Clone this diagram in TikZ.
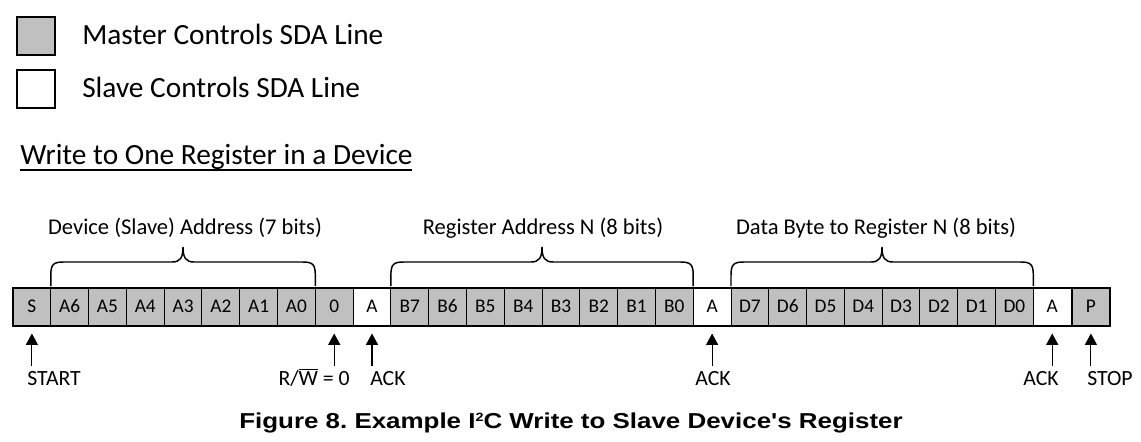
\documentclass[tikz,border=0pt]{standalone}
\usepackage{fontspec}
\setmainfont{Carlito}
\newfontfamily\capfont[FakeStretch=1.2]{Liberation Sans}
\usetikzlibrary{arrows.meta,calc}
\definecolor{mgray}{RGB}{192,192,192}
\frenchspacing
\tikzset{
  cell/.style={draw, line width=0.75pt, minimum width=28.34pt, minimum height=27.75pt, inner sep=0pt, font=\fontsize{14.5}{16}\selectfont},
  legbox/.style={draw, line width=1.2pt, minimum width=28.5pt, minimum height=28.5pt, inner sep=0pt},
  bigtxt/.style={inner sep=0pt, font=\fontsize{22}{26}\selectfont},
  brlbl/.style={inner sep=0pt, anchor=base, font=\fontsize{16.9}{20}\selectfont},
  botlbl/.style={inner sep=0pt, font=\fontsize{16.3}{19}\selectfont},
  bracestyle/.style={line width=1.1pt},
  arr/.style={line width=0.8pt, -{Triangle[length=8.5pt, width=9pt]}, shorten >=6pt},
}
\begin{document}
\begin{tikzpicture}[x=0.75pt, y=-0.75pt]
\useasboundingbox (0,0) rectangle (1141,442);
% legend
\node[legbox, fill=mgray] (lg1) at (36,36) {};
\node[legbox, fill=white] (lg2) at (36,89) {};
\node[bigtxt, anchor=base west] (lt1) at (82,45) {Master Controls SDA Line};
\node[bigtxt, anchor=base west] (lt2) at (82,98) {Slave Controls SDA Line};
% title
\node[bigtxt, anchor=base west] (title) at (20,165) {Write to One Register in a Device};
\draw[line width=1.4pt] ($(title.base west)+(0,5)$) -- ($(title.base east)+(-1,5)$);
% cells
\foreach \t/\f [count=\i from 0] in {S/mgray,A6/mgray,A5/mgray,A4/mgray,A3/mgray,A2/mgray,A1/mgray,A0/mgray,0/mgray,A/white,B7/mgray,B6/mgray,B5/mgray,B4/mgray,B3/mgray,B2/mgray,B1/mgray,B0/mgray,A/white,D7/mgray,D6/mgray,D5/mgray,D4/mgray,D3/mgray,D2/mgray,D1/mgray,D0/mgray,A/white}{
  \node[cell, fill=\f] (c\i) at ({13+37.79*(\i+0.5)},306.5) {\t};
}
\node[cell, fill=mgray] (p) at (1090.9,306.5) {P};
\draw[line width=1.5pt] (c0.north west) rectangle (c27.south east);
\draw[line width=1.5pt] (p.north west) rectangle (p.south east);
% braces
\draw[bracestyle] (50.8,286) -- (50.8,275) .. controls (50.8,264) and (53.8,262) .. (63.8,262) -- (172,262) .. controls (180,262) and (183,258) .. (183,247) .. controls (183,258) and (186,262) .. (194,262) -- (302.3,262) .. controls (312.3,262) and (315.3,264) .. (315.3,275) -- (315.3,286);
\draw[bracestyle] (390.9,286) -- (390.9,275) .. controls (390.9,264) and (393.9,262) .. (403.9,262) -- (531,262) .. controls (539,262) and (542,258) .. (542,247) .. controls (542,258) and (545,262) .. (553,262) -- (680.2,262) .. controls (690.2,262) and (693.2,264) .. (693.2,275) -- (693.2,286);
\draw[bracestyle] (731,286) -- (731,275) .. controls (731,264) and (734,262) .. (744,262) -- (871,262) .. controls (879,262) and (882,258) .. (882,247) .. controls (882,258) and (885,262) .. (893,262) -- (1020.3,262) .. controls (1030.3,262) and (1033.3,264) .. (1033.3,275) -- (1033.3,286);
\node[brlbl] (l1) at (185,234) {Device (Slave) Address (7 bits)};
\node[brlbl] (l2) at (543,234) {Register Address N (8 bits)};
\node[brlbl] (l3) at (876,234) {Data Byte to Register N (8 bits)};
% arrows
\coordinate (t0) at ($(c0.south)+(0,40)$);
\coordinate (t8) at ($(c8.south)+(0,40)$);
\coordinate (t9) at ($(c9.south)+(0,40)$);
\coordinate (t18) at ($(c18.south)+(0,40)$);
\coordinate (t27) at ($(c27.south)+(0,40)$);
\coordinate (tp) at ($(p.south)+(0,40)$);
\draw[arr] (t0) -- (c0.south);
\draw[arr] (t8) -- (c8.south);
\draw[arr] (t9) -- (c9.south);
\draw[arr] (t18) -- (c18.south);
\draw[arr] (t27) -- (c27.south);
\draw[arr] (tp) -- (p.south);
\node[botlbl, anchor=base west] (b0) at (27,385) {START};
\node[botlbl, anchor=base east] (b8) at (350,385) {R/\(\overline{\hbox{W}}\) = 0};
\node[botlbl, anchor=base west] (b9) at (370,385) {ACK};
\node[botlbl, anchor=base] (b18) at (713,385) {ACK};
\node[botlbl, anchor=base east] (b27) at (1059,385) {ACK};
\node[botlbl, anchor=base west] (bp) at (1087,385) {STOP};
% caption
\node[inner sep=0pt, anchor=base, font=\capfont\bfseries\fontsize{16.2}{18}\selectfont] (cap) at (571,428) {Figure 8. Example I\raisebox{0.55ex}{\fontsize{9}{9}\selectfont 2}C Write to Slave Device's Register};
\end{tikzpicture}
\end{document}
